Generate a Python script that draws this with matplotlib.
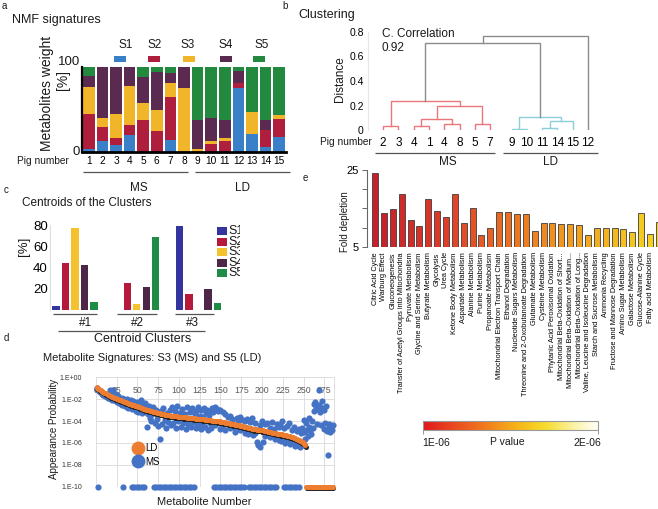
import numpy as np
import matplotlib.pyplot as plt
import matplotlib.transforms as mtransforms
from matplotlib.colors import LinearSegmentedColormap, Normalize
from matplotlib.cm import ScalarMappable
from matplotlib.lines import Line2D
from matplotlib.ticker import NullLocator

plt.rcParams['font.family'] = ['Liberation Sans', 'DejaVu Sans']

# ---------------- a: NMF signatures, weight per pig [%] ----------------
pig_numbers = ['1', '2', '3', '4', '5', '6', '7', '8', '9', '10', '11', '12', '13', '14', '15']
sig_names = ['S1', 'S2', 'S3', 'S4', 'S5']
w_s1 = [3, 12, 8, 19, 0, 0, 14, 0, 0, 0, 0, 75, 21, 5, 17]
w_s2 = [41, 17, 8, 12, 37, 24, 50, 0, 0, 9, 12, 6, 0, 20, 22]
w_s3 = [32, 11, 28, 47, 20, 25, 17, 75, 3, 3, 4, 0, 26, 0, 4]
w_s4 = [13, 60, 56, 22, 31, 45, 12, 25, 34, 28, 21, 14, 0, 12, 0]
w_s5 = [11, 0, 0, 0, 12, 6, 7, 0, 63, 60, 63, 5, 53, 63, 57]

# ---------------- b: clustering dendrogram ----------------
leaf_labels = ['2', '3', '4', '1', '4', '8', '5', '7', '9', '10', '11', '14', '15', '12']
# (child a, child b, distance); new nodes numbered from 14 on
merges = [(0, 1, 0.03), (2, 3, 0.03), (4, 5, 0.05), (15, 16, 0.09), (6, 7, 0.045),
          (17, 18, 0.20), (14, 19, 0.24), (8, 9, 0.005), (10, 11, 0.02), (22, 12, 0.07),
          (21, 23, 0.11), (20, 24, 0.71), (25, 13, 0.77)]
merge_group = ['MS'] * 7 + ['LD'] * 4 + ['root'] * 2

# ---------------- c: centroids of the clusters [%] ----------------
cluster_names = ['#1', '#2', '#3']
cent_s1 = [4, 0, 79]
cent_s2 = [44, 25, 15]
cent_s3 = [77, 6, 0]
cent_s4 = [42, 22, 20]
cent_s5 = [8, 69, 7]

# ---------------- d: appearance probability (log10), metabolites 1..285 ----------------
# -10 means zero (drawn at 1.E-10)
ld_log = [
    -0.90, -0.97, -1.03, -1.09, -1.15, -1.20, -1.25, -1.30, -1.35, -1.40,
    -1.44, -1.48, -1.52, -1.56, -1.60, -1.64, -1.68, -1.72, -1.76, -1.80,
    -1.83, -1.86, -1.89, -1.92, -1.95, -1.98, -2.01, -2.04, -2.07, -2.10,
    -2.13, -2.16, -2.19, -2.22, -2.25, -2.28, -2.31, -2.34, -2.37, -2.40,
    -2.43, -2.46, -2.49, -2.52, -2.55, -2.57, -2.59, -2.61, -2.63, -2.65,
    -2.68, -2.71, -2.74, -2.77, -2.80, -2.83, -2.86, -2.89, -2.92, -2.95,
    -2.97, -2.99, -3.01, -3.03, -3.05, -3.07, -3.09, -3.11, -3.13, -3.15,
    -3.17, -3.19, -3.21, -3.23, -3.25, -3.27, -3.29, -3.31, -3.33, -3.35,
    -3.37, -3.39, -3.41, -3.43, -3.45, -3.46, -3.47, -3.48, -3.49, -3.50,
    -3.51, -3.52, -3.53, -3.54, -3.55, -3.56, -3.57, -3.58, -3.59, -3.60,
    -3.61, -3.62, -3.62, -3.63, -3.64, -3.65, -3.66, -3.66, -3.67, -3.68,
    -3.69, -3.70, -3.70, -3.71, -3.72, -3.73, -3.74, -3.75, -3.76, -3.77,
    -3.77, -3.78, -3.79, -3.80, -3.80, -3.81, -3.82, -3.83, -3.84, -3.85,
    -3.86, -3.87, -3.88, -3.89, -3.90, -3.91, -3.92, -3.93, -3.94, -3.95,
    -3.96, -3.97, -3.98, -3.99, -4.00, -4.01, -4.02, -4.03, -4.04, -4.05,
    -4.07, -4.08, -4.10, -4.11, -4.13, -4.14, -4.16, -4.17, -4.19, -4.20,
    -4.22, -4.23, -4.25, -4.26, -4.28, -4.29, -4.31, -4.32, -4.34, -4.35,
    -4.37, -4.38, -4.40, -4.42, -4.44, -4.46, -4.48, -4.50, -4.52, -4.54,
    -4.56, -4.58, -4.60, -4.62, -4.64, -4.66, -4.68, -4.70, -4.72, -4.74,
    -4.75, -4.76, -4.77, -4.78, -4.79, -4.80, -4.81, -4.82, -4.83, -4.84,
    -4.86, -4.88, -4.90, -4.91, -4.93, -4.95, -4.96, -4.98, -5.00, -5.01,
    -5.03, -5.05, -5.06, -5.08, -5.10, -5.11, -5.13, -5.15, -5.16, -5.18,
    -5.19, -5.20, -5.21, -5.22, -5.23, -5.25, -5.27, -5.29, -5.31, -5.33,
    -5.35, -5.37, -5.39, -5.41, -5.43, -5.46, -5.49, -5.52, -5.55, -5.58,
    -5.61, -5.65, -5.69, -5.73, -5.77, -5.81, -5.85, -5.90, -5.95, -6.00,
    -6.08, -6.20, -10, -10, -10, -10, -10, -10, -10, -10,
    -10, -10, -10, -10, -10, -10, -10, -10, -10, -10,
    -10, -10, -10, -10, -10, -10, -10, -10, -10, -10,
    -10, -10, -10, -10, -10,
]
ms_log = [
    -1.00, -1.10, -10, -1.25, -1.35, -1.30, -1.50, -1.45, -1.60, -1.55,
    -1.70, -1.65, -1.80, -1.60, -1.85, -1.90, -1.20, -2.00, -1.40, -2.05,
    -1.15, -2.10, -1.50, -2.20, -1.60, -2.25, -1.75, -2.35, -2.00, -2.45,
    -1.90, -2.50, -10, -2.00, -2.60, -2.15, -2.70, -1.95, -2.80, -2.30,
    -2.55, -2.10, -10, -2.90, -2.20, -10, -2.45, -3.05, -10, -2.25,
    -3.15, -10, -2.50, -2.05, -10, -3.30, -2.60, -10, -2.35, -3.20,
    -2.70, -4.50, -3.40, -2.60, -3.70, -2.90, -3.95, -3.35, -2.75, -10,
    -4.20, -3.00, -10, -3.80, -4.45, -10, -5.60, -3.10, -10, -4.30,
    -2.85, -10, -3.90, -4.60, -10, -3.25, -4.10, -10, -2.95, -4.40,
    -10, -2.75, -4.20, -10, -3.05, -4.65, -10, -2.60, -4.00, -10,
    -3.30, -4.50, -10, -2.90, -4.15, -10, -3.40, -4.75, -10, -2.70,
    -4.30, -10, -3.15, -4.55, -10, -2.85, -4.05, -10, -3.35, -4.60,
    -3.10, -4.40, -2.75, -4.10, -3.50, -4.70, -3.00, -4.25, -3.60, -2.85,
    -4.50, -3.30, -4.00, -2.95, -4.80, -3.45, -4.15, -3.05, -4.60, -2.80,
    -3.20, -10, -2.75, -4.35, -10, -2.90, -3.10, -10, -4.70, -3.00,
    -10, -4.45, -3.15, -10, -4.80, -3.40, -10, -4.25, -3.60, -10,
    -3.55, -4.60, -10, -3.80, -4.30, -10, -5.00, -4.65, -10, -3.70,
    -3.95, -10, -4.85, -3.65, -10, -4.50, -3.90, -10, -5.10, -4.00,
    -4.75, -3.85, -5.20, -10, -4.10, -4.95, -10, -3.75, -5.30, -10,
    -4.20, -5.05, -10, -5.90, -6.20, -10, -4.40, -6.40, -10, -3.95,
    -5.95, -10, -4.30, -5.40, -10, -4.15, -5.15, -10, -4.60, -5.50,
    -10, -4.05, -5.30, -10, -4.70, -5.60, -10, -4.25, -5.45, -4.50,
    -5.70, -4.35, -5.85, -4.00, -5.55, -10, -4.60, -6.00, -10, -4.45,
    -5.75, -10, -4.20, -6.10, -10, -4.80, -5.90, -10, -4.55, -6.30,
    -10, -4.90, -6.05, -10, -4.70, -6.40, -5.10, -4.60, -6.20, -5.00,
    -3.90, -5.60, -4.20, -4.80, -5.40, -3.70, -4.50, -4.80, -5.20, -4.00,
    -4.60, -2.40, -3.10, -2.30, -2.70, -4.30, -2.90, -1.15, -2.50, -3.20,
    -4.40, -2.20, -2.80, -4.70, -3.00, -4.20, -2.60, -4.90, -7.10, -4.50,
    -4.30, -5.00, -4.60, -4.80, -4.40,
]

# ---------------- e: pathway enrichment ----------------
pathways = ['Citric Acid Cycle', 'Warburg Effect', 'Gluconeogenesis',
            'Transfer of Acetyl Groups into Mitochondria', 'Pyruvate Metabolism',
            'Glycine and Serine Metabolism', 'Butyrate Metabolism', 'Glycolysis', 'Urea Cycle',
            'Ketone Body Metabolism', 'Aspartate Metabolism', 'Alanine Metabolism',
            'Purine Metabolism', 'Propanoate Metabolism', 'Mitochondrial Electron Transport Chain',
            'Ethanol Degradation', 'Nucleotide Sugars Metabolism',
            'Threonine and 2-Oxobutanoate Degradation', 'Glutamate Metabolism',
            'Cysteine Metabolism', 'Phytanic Acid Peroxisomal Oxidation',
            'Mitochondrial Beta-Oxidation of Short...', 'Mitochondrial Beta-Oxidation of Medium...',
            'Mitochondrial Beta-Oxidation of Long...', 'Valine, Leucine and Isoleucine Degradation',
            'Starch and Sucrose Metabolism', 'Ammonia Recycling', 'Fructose and Mannose Degradation',
            'Amino Sugar Metabolism', 'Galactose Metabolism', 'Glucose-Alanine Cycle',
            'Fatty acid Metabolism', '']
fold_depletion = [24.1, 13.9, 14.8, 18.7, 11.9, 10.3, 17.4, 14.2, 12.7, 18.8, 11.3, 15.2,
                  8.1, 9.9, 14.0, 14.0, 13.6, 13.6, 9.1, 11.3, 11.3, 11.0, 11.0, 10.7,
                  8.0, 10.0, 9.9, 9.9, 9.6, 8.9, 13.8, 8.3, 11.5]

W, H = 658, 509
fig = plt.figure(figsize=(W / 100, H / 100), dpi=100)


def add_ax(x0, y0, x1, y1, **kw):
    # pixel box (top-left origin) -> figure axes
    return fig.add_axes([x0 / W, 1 - y1 / H, (x1 - x0) / W, (y1 - y0) / H], **kw)


ov = add_ax(0, 0, W, H, zorder=20)
ov.set_xlim(0, W)
ov.set_ylim(H, 0)
ov.axis('off')


def note(x, y, s, size=8, **kw):
    kw.setdefault('ha', 'left')
    kw.setdefault('va', 'center')
    ov.text(x, y, s, fontsize=size, color=kw.pop('color', '#1a1a1a'), **kw)


def hline(x0, x1, y, color='#555555', lw=0.9):
    ov.plot([x0, x1], [y, y], color=color, lw=lw, solid_capstyle='butt')


# ===== panel a =====
a_colors = ['#3a80c8', '#b01e3e', '#f1b52a', '#5a2a50', '#23893f']
ax_a = add_ax(82, 67, 286, 151.5)
bottom = np.zeros(len(pig_numbers))
xa = np.arange(1, len(pig_numbers) + 1)
for vals, col in zip([w_s1, w_s2, w_s3, w_s4, w_s5], a_colors):
    ax_a.bar(xa, vals, bottom=bottom, width=0.84, color=col, lw=0)
    bottom += np.array(vals)
ax_a.set_xlim(0.5, 15.5)
ax_a.set_ylim(0, 100)
ax_a.set_xticks(xa)
ax_a.set_xticklabels(pig_numbers, fontsize=7.3)
ax_a.set_yticks([])
ax_a.tick_params(length=0)
ax_a.tick_params(axis='x', pad=3)
for s in ['top', 'right']:
    ax_a.spines[s].set_visible(False)
ax_a.spines['left'].set_linewidth(1.6)
ax_a.spines['bottom'].set_linewidth(2.0)

note(2, 6, 'a', 7)
note(12, 20, 'NMF signatures', 9)
note(80, 62, '100', 9.5, ha='right')
note(80, 152, '0', 9.5, ha='right')
note(47, 93, 'Metabolites weight', 10, rotation=90, ha='center')
note(63, 80, '[%]', 10, rotation=90, ha='center')
note(69, 161, 'Pig number', 7.3, ha='right')
for name, col, xl, xr in zip(sig_names, a_colors, [126, 155, 188, 226, 262], [120, 154, 189, 226, 259]):
    note(xl, 45, name, 8.5, ha='center')
    ov.add_patch(plt.Rectangle((xr - 6, 56), 12, 5.5, color=col, lw=0))
hline(83, 188, 171.5)
hline(195, 290, 171.5)
note(139, 188, 'MS', 8.5, ha='center')
note(243, 188, 'LD', 8.5, ha='center')

# ===== panel b =====
ax_b = add_ax(368, 32, 600, 130)
link_col = {'MS': '#e8767a', 'LD': '#8ccfd9', 'root': '#8c8c8c'}
pos = {i: (i if i < 8 else i + 0.4) for i in range(len(leaf_labels))}
hgt = {i: 0.0 for i in range(len(leaf_labels))}
for k, ((a, b, h), grp) in enumerate(zip(merges, merge_group)):
    node = len(leaf_labels) + k
    ax_b.plot([pos[a], pos[a], pos[b], pos[b]], [hgt[a], h, h, hgt[b]],
              color=link_col[grp], lw=1.0, solid_joinstyle='miter')
    pos[node] = (pos[a] + pos[b]) / 2
    hgt[node] = h
ax_b.set_xlim(-0.98, 14.18)
ax_b.set_ylim(0, 0.8)
ax_b.set_yticks([0, 0.2, 0.4, 0.6, 0.8])
ax_b.set_yticklabels(['0', '0.2', '0.4', '0.6', '0.8'], fontsize=7.5)
ax_b.set_xticks([pos[i] for i in range(len(leaf_labels))])
ax_b.set_xticklabels(leaf_labels, fontsize=8.5)
ax_b.tick_params(length=0)
ax_b.tick_params(axis='x', pad=5)
ax_b.tick_params(axis='y', pad=3)
for s in ['top', 'right', 'bottom']:
    ax_b.spines[s].set_visible(False)
ax_b.spines['left'].set_color('#e6e6e6')

note(282, 6, 'b', 7)
note(298, 15, 'Clustering', 9)
note(340, 79, 'Distance', 8.5, rotation=90, ha='center')
note(382, 34, 'C. Correlation', 8.5)
note(382, 48, '0.92', 8.5)
note(372, 142, 'Pig number', 7.3, ha='right')
hline(375, 495, 153.3)
hline(503, 598, 153.3)
note(448, 162, 'MS', 8.5, ha='center')
note(551, 162, 'LD', 8.5, ha='center')

# ===== panel c =====
c_colors = ['#34349e', '#b5193c', '#f3c22e', '#4e2748', '#1f8b45']
ax_c = add_ax(50, 225, 222, 310)
for j, (vals, col) in enumerate(zip([cent_s1, cent_s2, cent_s3, cent_s4, cent_s5], c_colors)):
    xs = [g * 6.5 + (j - 2) for g in range(len(cluster_names))]
    ax_c.bar(xs, vals, width=0.75, color=col, lw=0)
ax_c.set_xlim(-2.63, 15.47)
ax_c.set_ylim(0, 80)
ax_c.set_yticks([20, 40, 60, 80])
ax_c.set_yticklabels(['20', '40', '60', '80'], fontsize=9.5)
ax_c.set_xticks([])
ax_c.tick_params(length=0, pad=1.5)
for s in ['top', 'right', 'bottom']:
    ax_c.spines[s].set_visible(False)
ax_c.spines['left'].set_color('#dddddd')

note(4, 190, 'c', 7)
note(22, 203, 'Centroids of the Clusters', 8.5)
note(24, 246, '[%]', 9.5, rotation=90, ha='center')
for name, (x0, x1), xl in zip(cluster_names, [(53, 97), (117, 157), (175, 214)], [86, 137, 192]):
    hline(x0, x1, 314)
    note(xl, 323, name, 8.5, ha='center')
hline(58, 205, 331)
note(143, 339, 'Centroid Clusters', 9, ha='center')

ax_leg = add_ax(212, 222, 240, 282, zorder=21)
ax_leg.set_xlim(212, 240)
ax_leg.set_ylim(282, 222)
ax_leg.axis('off')
for name, col, yy in zip(sig_names, c_colors, [231, 241.7, 252.3, 263, 273.3]):
    ax_leg.add_patch(plt.Rectangle((217, yy - 4), 10, 8, color=col, lw=0, clip_on=True))
    ax_leg.text(228.5, yy, name, fontsize=9, va='center', ha='left', color='#1a1a1a', clip_on=True)

# ===== panel d =====
ax_d = add_ax(95.8, 377.3, 333.5, 486.7)
x_met = np.arange(1, len(ld_log) + 1)
ld = 10.0 ** np.array(ld_log)
ms = 10.0 ** np.array(ms_log)
ax_d.set_yscale('log')
ax_d.scatter(x_met, ms, s=20, color='#4472c4', lw=0, zorder=3, clip_on=False)
shadow = mtransforms.offset_copy(ax_d.transData, fig=fig, x=0.4, y=-1.0, units='points')
ax_d.scatter(x_met, ld, s=13, color='#262626', lw=0, zorder=4, transform=shadow, clip_on=False)
ax_d.scatter(x_met, ld, s=13, color='#ed7d31', lw=0, zorder=5, clip_on=False)
ax_d.set_xlim(0, 286)
ax_d.set_ylim(1e-10, 1)
ax_d.set_yticks([1e0, 1e-2, 1e-4, 1e-6, 1e-8, 1e-10])
ax_d.set_yticklabels(['1.E+00', '1.E-02', '1.E-04', '1.E-06', '1.E-08', '1.E-10'],
                     fontsize=5, color='#333333')
ax_d.yaxis.set_minor_locator(NullLocator())
ax_d.set_xticks(range(0, 276, 25))
ax_d.tick_params(length=0)
ax_d.tick_params(axis='x', labelbottom=False)
ax_d.tick_params(axis='y', pad=10)
ax_d.grid(True, color='#d9d9d9', lw=0.6)
ax_d.set_axisbelow(True)
for s in ['top', 'left', 'bottom']:
    ax_d.spines[s].set_visible(False)
ax_d.spines['right'].set_color('#d9d9d9')
ax_d.spines['right'].set_linewidth(0.6)
tx = mtransforms.blended_transform_factory(ax_d.transData, ax_d.transAxes)
for v in range(0, 276, 25):
    ax_d.text(v, 0.875, str(v), transform=tx, fontsize=6.3, color='#595959',
              ha='center', va='center', zorder=2)
handles = [Line2D([], [], marker='o', ls='', color='#ed7d31', markersize=9),
           Line2D([], [], marker='o', ls='', color='#4472c4', markersize=9)]
ax_d.legend(handles, ['LD', 'MS'], loc='center left', bbox_to_anchor=(0.135, 0.29),
            frameon=False, fontsize=7, handlelength=1.0, handletextpad=0.3,
            borderpad=0, labelspacing=0.35)

note(4, 338, 'd', 7)
note(152, 358, 'Metabolite Signatures: S3 (MS) and S5 (LD)', 8, ha='center')
note(54, 429, 'Appearance Probability', 7, rotation=90, ha='center')
note(204, 502, 'Metabolite Number', 8, ha='center')

# ===== panel e =====
ax_e = add_ax(366.7, 170, 366.7 + 33.44 * 8.87, 246.7)
bar_cmap = LinearSegmentedColormap.from_list(
    'bars', ['#c41f2a', '#de3c28', '#ec7422', '#f2a41f', '#f6d01f'])
xe = np.arange(len(pathways))
bar_cols = [bar_cmap(min(i / 31, 1.0)) for i in xe]
ax_e.bar(xe, np.array(fold_depletion) - 5, bottom=5, width=0.68, color=bar_cols,
         edgecolor='#3d3d3d', lw=0.6)
ax_e.set_xlim(-0.94, 32.5)
ax_e.set_ylim(5, 25)
ax_e.set_yticks([5, 10, 15, 20, 25])
ax_e.set_yticklabels(['5', '', '', '', '25'], fontsize=8)
ax_e.set_xticks(xe)
ax_e.set_xticklabels(pathways, rotation=90, fontsize=5.3)
ax_e.tick_params(axis='x', length=0, pad=4)
ax_e.tick_params(axis='y', length=3.5, width=0.7, color='#666666', pad=2)
for s in ['top', 'right', 'bottom']:
    ax_e.spines[s].set_visible(False)
ax_e.spines['left'].set_color('#666666')
ax_e.spines['left'].set_linewidth(0.8)

note(303, 178, 'e', 7)
note(345, 222, 'Fold depletion', 7, rotation=90, ha='center')

p_cmap = LinearSegmentedColormap.from_list(
    'pval', [(0, '#e0191c'), (0.3, '#ef6a1f'), (0.55, '#f5b818'), (0.7, '#f6dc2c'),
             (0.88, '#fbf4b0'), (1.0, '#fffff6')])
cax = add_ax(423, 421, 598, 430)
cb = fig.colorbar(ScalarMappable(norm=Normalize(1e-6, 2e-6), cmap=p_cmap), cax=cax,
                  orientation='horizontal', ticks=[1e-6, 2e-6])
cb.ax.set_xticklabels(['', ''])
cb.ax.tick_params(length=3, color='#888888', width=0.6)
cb.outline.set_edgecolor('#999999')
cb.outline.set_linewidth(0.8)
note(422, 443, '1E-06', 7.5)
note(507, 442, 'P value', 7.5, ha='center')
note(601, 443, '2E-06', 7.5, ha='right')

fig.savefig('out.png', dpi=100)
